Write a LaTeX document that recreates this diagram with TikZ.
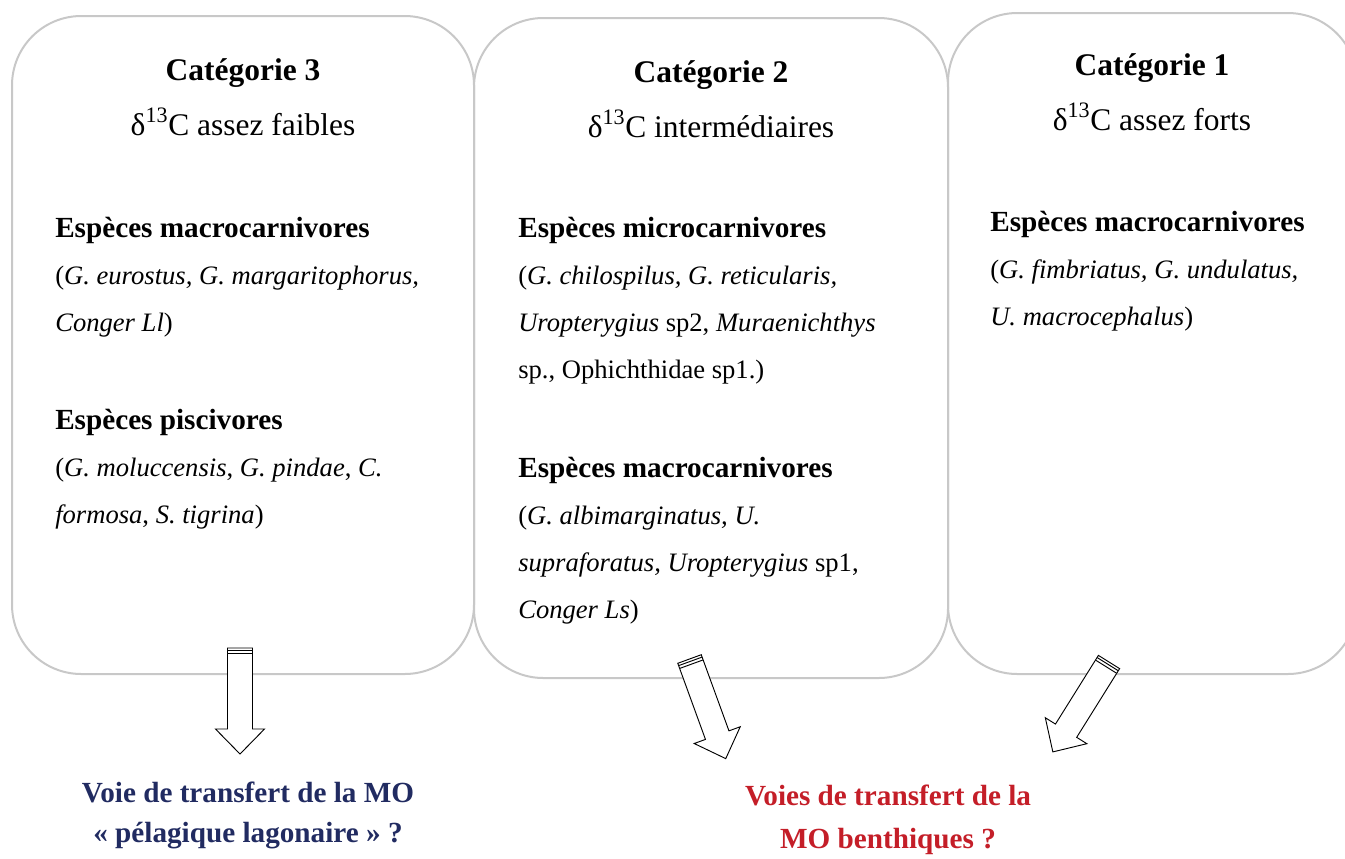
\documentclass[tikz,border=0pt]{standalone}
\usepackage{fontspec}
\setmainfont{Liberation Serif}
\definecolor{boxgray}{RGB}{200,200,200}
\definecolor{pelagblue}{RGB}{33,43,97}
\definecolor{benthred}{RGB}{196,30,40}
\newcommand{\grouphead}[1]{{\fontsize{21.9}{35.25}\selectfont\bfseries #1}}
\tikzset{
  catbox/.style={draw=boxgray, line width=1.5pt, rounded corners=52pt, inner sep=0pt},
  cattitle/.style={font=\fontsize{23.6}{28}\selectfont\bfseries, anchor=base, inner sep=0pt},
  catdelta/.style={font=\fontsize{23.6}{28}\selectfont, anchor=base, inner sep=0pt},
  groupblock/.style={font=\fontsize{19.95}{35.25}\selectfont, align=left, anchor=base west, inner sep=0pt},
  pathlabel/.style={font=\fontsize{21.9}{30}\selectfont\bfseries, align=center, anchor=base, inner sep=0pt},
  arrowline/.style={draw=black, line width=0.7pt, fill=white},
  stripedarrow/.pic={
    \draw[arrowline] (-12.5,0) -- (12.5,0) -- (12.5,81) -- (24.5,81) -- (0,106)
      -- (-24.5,81) -- (-12.5,81) -- cycle;
    \draw[arrowline] (-12.5,2.5) -- (12.5,2.5) (-12.5,5.5) -- (12.5,5.5);
  }
}
\begin{document}
\begin{tikzpicture}[x=0.75pt, y=-0.75pt]
  \clip (0,0) rectangle (1345,858);

  % category boxes
  \node[catbox, minimum width=346.5pt, minimum height=493.5pt] (cat3) at (243,345) {};
  \node[catbox, minimum width=355.5pt, minimum height=495pt] (cat2) at (711,348) {};
  \node[catbox, minimum width=306.75pt, minimum height=495.75pt] (cat1) at (1152.5,343.5) {};

  % category 3 (blocks placed by the baseline of their last line)
  \node[cattitle] (title3) at (243,80) {Catégorie 3};
  \node[catdelta] (delta3) at (243,135) {δ\textsuperscript{13}C assez faibles};
  \node[groupblock] (macro3) at (55,331) {\grouphead{Espèces macrocarnivores}\\
    (\textit{G. eurostus, G. margaritophorus,}\\ \textit{Conger Ll})};
  \node[groupblock] (pisci3) at (55,523) {\grouphead{Espèces piscivores}\\
    (\textit{G. moluccensis}, \textit{G. pindae}, \textit{C.}\\ \textit{formosa}, \textit{S. tigrina})};

  % category 2
  \node[cattitle] (title2) at (711,82) {Catégorie 2};
  \node[catdelta] (delta2) at (711,137) {δ\textsuperscript{13}C intermédiaires};
  \node[groupblock] (micro2) at (518,378) {\grouphead{Espèces microcarnivores}\\
    (\textit{G. chilospilus, G. reticularis,}\\ \textit{Uropterygius} sp2, \textit{Muraenichthys}\\
    sp., Ophichthidae sp1.)};
  \node[groupblock] (macro2) at (518,618) {\grouphead{Espèces macrocarnivores}\\
    (\textit{G. albimarginatus, U.}\\ \textit{supraforatus, Uropterygius} sp1,\\ \textit{Conger Ls})};

  % category 1
  \node[cattitle] (title1) at (1152,75) {Catégorie 1};
  \node[catdelta] (delta1) at (1152,130) {δ\textsuperscript{13}C assez forts};
  \node[groupblock] (macro1) at (990,325) {\grouphead{Espèces macrocarnivores}\\
    (\textit{G. fimbriatus, G. undulatus,}\\ \textit{U. macrocephalus})};

  % transfer arrows
  \pic at (240,648) {stripedarrow};
  \pic[rotate=20] at (689.5,659) {stripedarrow};
  \pic[rotate=-32] at (1109,662) {stripedarrow};

  % transfer pathways
  \node[pathlabel, text=pelagblue] (pelag) at (248,842) {Voie de transfert de la MO\\
    «~pélagique lagonaire~»~?};
  \node[pathlabel, text=benthred, font=\fontsize{21.9}{32.25}\selectfont\bfseries] (benth) at (888,848)
    {Voies de transfert de la\\ MO benthiques ?};
\end{tikzpicture}
\end{document}
